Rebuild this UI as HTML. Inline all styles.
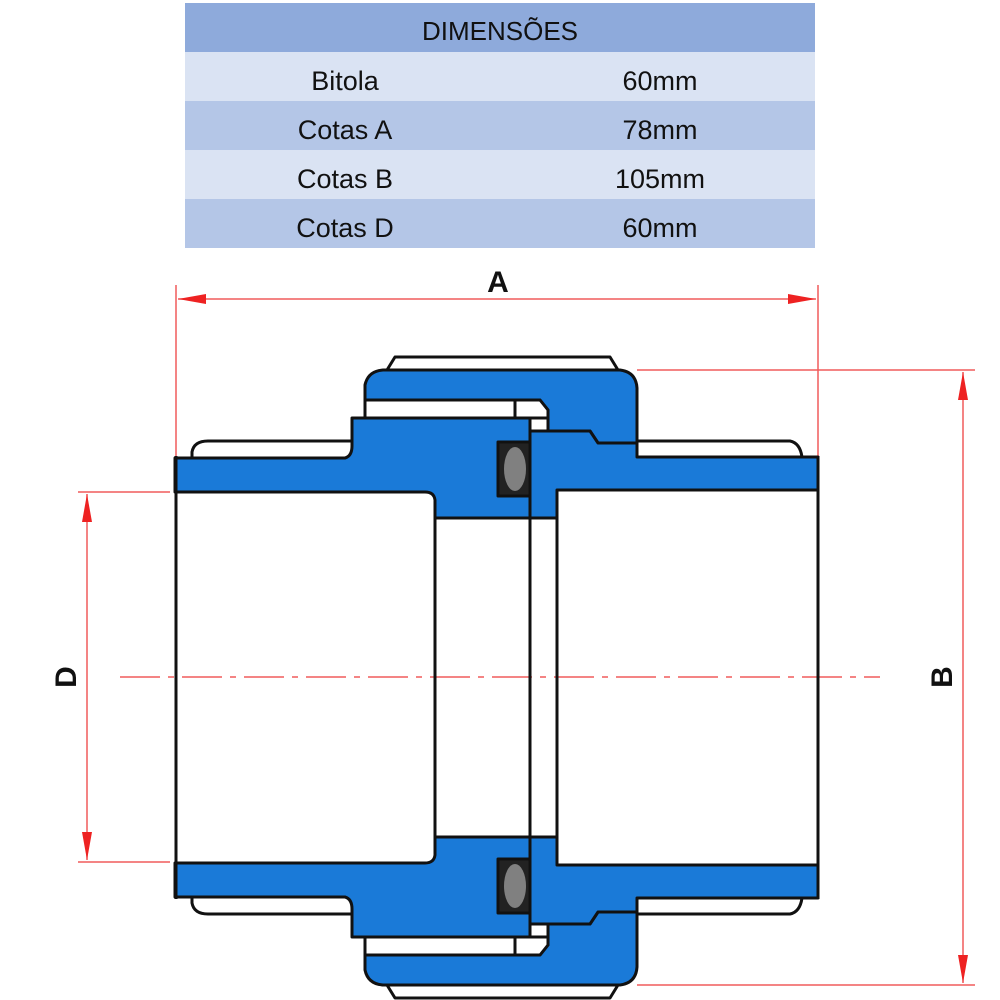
<!DOCTYPE html>
<html><head><meta charset="utf-8"><style>
html,body{margin:0;padding:0;background:#fff;width:1000px;height:1000px;overflow:hidden;}
svg{display:block;}
</style></head><body>
<svg width="1000" height="1000" viewBox="0 0 1000 1000" xmlns="http://www.w3.org/2000/svg">
<!-- table -->
<rect x="185" y="3" width="630" height="49" fill="#8eaadb"/>
<rect x="185" y="52" width="630" height="49" fill="#dae3f3"/>
<rect x="185" y="101" width="630" height="49" fill="#b4c6e7"/>
<rect x="185" y="150" width="630" height="49" fill="#dae3f3"/>
<rect x="185" y="199" width="630" height="49" fill="#b4c6e7"/>
<g font-family="Liberation Sans, sans-serif" font-size="27" fill="#111" text-anchor="middle">
<text x="500" y="40" font-size="26">DIMENSÕES</text>
<text x="345" y="90">Bitola</text><text x="660" y="90">60mm</text>
<text x="345" y="139">Cotas A</text><text x="660" y="139">78mm</text>
<text x="345" y="188">Cotas B</text><text x="660" y="188">105mm</text>
<text x="345" y="237">Cotas D</text><text x="660" y="237">60mm</text>
</g>

<!-- dimension lines -->
<g stroke="#e33" stroke-width="1.5" fill="none" opacity="0.8">
<line x1="176" y1="285" x2="176" y2="458"/>
<line x1="818" y1="285" x2="818" y2="458"/>
<line x1="178" y1="299" x2="816" y2="299"/>
<line x1="637" y1="370" x2="975" y2="370"/>
<line x1="637" y1="985" x2="975" y2="985"/>
<line x1="963" y1="372" x2="963" y2="983"/>
<line x1="78" y1="492" x2="170" y2="492"/>
<line x1="78" y1="862" x2="170" y2="862"/>
<line x1="87" y1="494" x2="87" y2="860"/>
<line x1="120" y1="677" x2="880" y2="677" stroke-dasharray="40,8,6,8"/>
</g>
<g fill="#e22">
<polygon points="178,299 206,294 206,304"/>
<polygon points="816,299 788,294 788,304"/>
<polygon points="963,372 958,400 968,400"/>
<polygon points="963,983 958,955 968,955"/>
<polygon points="87,494 82,522 92,522"/>
<polygon points="87,860 82,832 92,832"/>
</g>
<g font-family="Liberation Sans, sans-serif" font-weight="bold" font-size="30" fill="#111" text-anchor="middle">
<text x="498" y="292">A</text>
<text transform="translate(952,677) rotate(-90)">B</text>
<text transform="translate(76,677) rotate(-90)">D</text>
</g>

<!-- fitting -->
<g id="half" stroke="#111" stroke-width="3" stroke-linejoin="round">
  <path d="M387,370 L395,357 L610,357 L618,370 Z" fill="#fff"/>
  <path d="M192,458 L192,452 Q194,441 208,441 L352,441 L352,458 Z" fill="#fff"/>
  <path d="M637,457 L637,441 L790,441 Q800,443 802,457 Z" fill="#fff"/>
  <path d="M365,400 L365,385 Q368,371 383,370 L620,370 Q636,372 637,388 L637,443 L598,443 L590,431 L548,431 L548,418 L548,410 L540,400 Z" fill="#1a7ad8"/>
  <path d="M365,400 L540,400 L548,410 L548,418 L365,418 Z" fill="#fff"/>
  <line x1="515" y1="400" x2="515" y2="418"/>
  <path d="M175,458 L345,458 Q352,456 352,446 L352,418 L530,418 L530,518 L435,518 L435,500 Q434,492 425,492 L175,492 Z" fill="#1a7ad8"/>
  <path d="M530,431 L590,431 L598,443 L637,443 L637,457 L818,457 L818,490 L557,490 L557,518 L530,518 Z" fill="#1a7ad8"/>
  <rect x="498" y="442" width="32" height="54" fill="#222"/>
  <ellipse cx="515" cy="469" rx="11" ry="22" fill="#808080" stroke="none"/>
</g>
<use href="#half" transform="translate(0,1355) scale(1,-1)"/>
<g stroke="#111" stroke-width="3">
<line x1="176" y1="456" x2="176" y2="899"/>
<line x1="818" y1="456" x2="818" y2="899"/>
<line x1="435" y1="505" x2="435" y2="850"/>
<line x1="530" y1="418" x2="530" y2="937"/>
<line x1="557" y1="490" x2="557" y2="865"/>
</g>
</svg>
</body></html>
